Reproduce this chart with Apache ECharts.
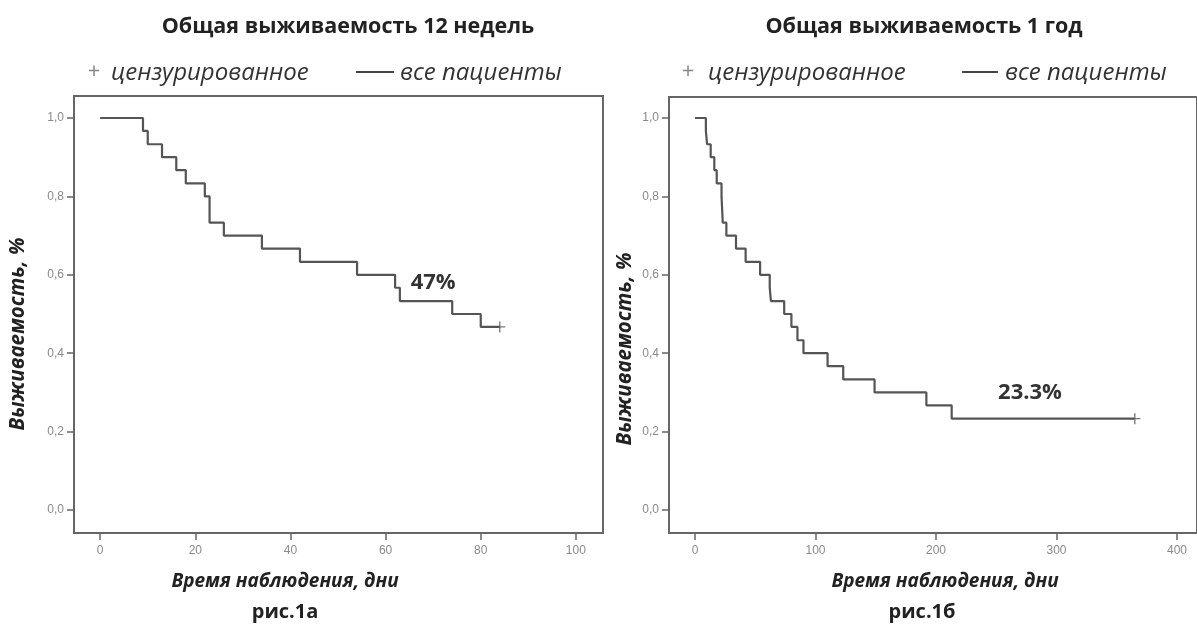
<!DOCTYPE html>
<html>
<head>
<meta charset="utf-8">
<script src="https://cdn.jsdelivr.net/npm/echarts@6/dist/echarts.min.js"></script>
<style>html,body{margin:0;padding:0;background:#fff}#c{width:1197px;height:630px}</style>
</head>
<body>
<div id="c"></div>
<script>
// ---- data (Kaplan–Meier steps) ----
const weeksDays     = [0, 9, 10, 13, 16, 18, 22, 23, 26, 34, 42, 54, 62, 63, 74, 80, 84];
const weeksSurvival = [1.0, 0.967, 0.933, 0.9, 0.867, 0.833, 0.8, 0.733, 0.7, 0.667, 0.633, 0.6, 0.567, 0.533, 0.5, 0.467, 0.467];
const weeksCensorDays = [84];
const weeksCensorSurv = [0.467];

const yearDays     = [0, 9, 10, 13, 16, 18, 22, 23, 26, 34, 42, 54, 62, 63, 74, 80, 85, 90, 110, 123, 149, 192, 213, 365];
const yearSurvival = [1.0, 0.967, 0.933, 0.9, 0.867, 0.833, 0.8, 0.733, 0.7, 0.667, 0.633, 0.6, 0.567, 0.533, 0.5, 0.467, 0.433, 0.4, 0.367, 0.333, 0.3, 0.267, 0.233, 0.233];
const yearCensorDays = [365];
const yearCensorSurv = [0.233];

const weeksXTicks = [0, 20, 40, 60, 80, 100];
const yearXTicks  = [0, 100, 200, 300, 400];
const yTicks      = [0, 0.2, 0.4, 0.6, 0.8, 1.0];

const titles      = ['Общая выживаемость 12 недель', 'Общая выживаемость 1 год'];
const legendNames = ['цензурированное', 'все пациенты'];
const yName = 'Выживаемость, %';
const xName = 'Время наблюдения, дни';
const figNames = ['рис.1а', 'рис.1б'];
const weeksNote = '47%';
const yearNote  = '23.3%';

// ---- build ----
const zip = (a, b) => a.map((v, i) => [v, b[i]]);
const LINE = '#555';
const FRAME = '#666';
const PLUS = 'path://M0,4.4H10V5.6H0Z M4.4,0H5.6V10H4.4Z';
const CAL = '"Open Sans", "Noto Sans", sans-serif';

function xAxis(grid, min, max, ticks) {
  return {
    type: 'value', gridIndex: grid, min: min, max: max, position: 'bottom',
    axisLine: { show: false, onZero: false },
    splitLine: { show: false },
    axisTick: { show: true, inside: false, length: 7, customValues: ticks, lineStyle: { color: FRAME, width: 1.5 } },
    axisLabel: { customValues: ticks, color: '#8a8a8a', fontSize: 12, margin: 12, fontFamily: 'Liberation Sans, Arial' }
  };
}
function yAxis(grid, min, max) {
  return {
    type: 'value', gridIndex: grid, min: min, max: max, position: 'left',
    axisLine: { show: false, onZero: false },
    splitLine: { show: false },
    axisTick: { show: true, inside: false, length: 7, customValues: yTicks, lineStyle: { color: FRAME, width: 1.5 } },
    axisLabel: { customValues: yTicks, color: '#8a8a8a', fontSize: 12, margin: 10, fontFamily: 'Liberation Sans, Arial',
      formatter: v => v.toFixed(1).replace('.', ',') }
  };
}
function noteMark(coord, text) {
  return {
    symbol: 'circle', symbolSize: 1, itemStyle: { color: 'rgba(0,0,0,0)' },
    label: { show: true, position: 'inside', formatter: text, color: '#333', fontSize: 22, fontWeight: 'bold', fontFamily: CAL },
    data: [{ coord: coord }]
  };
}

const txt = (x, y, text, style, extra) => Object.assign({
  type: 'text', x: x, y: y,
  style: Object.assign({ text: text, fill: '#222', textAlign: 'center', textVerticalAlign: 'middle', fontFamily: CAL }, style)
}, extra || {});

const LEG = { fontSize: 24, fontStyle: 'italic', textAlign: 'left', fill: '#333' };
const graphics = [
  txt(348, 27, titles[0], { fontSize: 21.5, fontWeight: 'bold' }),
  txt(924, 27, titles[1], { fontSize: 21.5, fontWeight: 'bold' }),
  // legends
  txt(94, 72, '+', { fontSize: 22, fill: '#888' }),
  txt(111, 73, legendNames[0], LEG),
  { type: 'line', shape: { x1: 356, y1: 72, x2: 394, y2: 72 }, style: { stroke: '#444', lineWidth: 2 } },
  txt(400, 73, legendNames[1], LEG),
  txt(688, 72, '+', { fontSize: 22, fill: '#888' }),
  txt(708, 73, legendNames[0], LEG),
  { type: 'line', shape: { x1: 962, y1: 72, x2: 998, y2: 72 }, style: { stroke: '#444', lineWidth: 2 } },
  txt(1005, 73, legendNames[1], LEG),
  // axis names
  txt(18, 334, yName, { fontSize: 20.5, fontWeight: 'bold', fontStyle: 'italic' }, { rotation: Math.PI / 2 }),
  txt(625, 349, yName, { fontSize: 20.5, fontWeight: 'bold', fontStyle: 'italic' }, { rotation: Math.PI / 2 }),
  txt(285, 582, xName, { fontSize: 19, fontWeight: 'bold', fontStyle: 'italic' }),
  txt(945, 582, xName, { fontSize: 19, fontWeight: 'bold', fontStyle: 'italic' }),
  txt(285, 612, figNames[0], { fontSize: 20, fontWeight: 'bold' }),
  txt(922, 612, figNames[1], { fontSize: 20, fontWeight: 'bold' })
];

const option = {
  backgroundColor: '#fff',
  animation: false,
  grid: [
    { left: 74, top: 96, width: 529, height: 437, show: true, borderColor: FRAME, borderWidth: 2, backgroundColor: '#fff' },
    { left: 669, top: 97, width: 528, height: 436, show: true, borderColor: FRAME, borderWidth: 2, backgroundColor: '#fff' }
  ],
  xAxis: [xAxis(0, -5.5, 105.7, weeksXTicks), xAxis(1, -21.6, 416.6, yearXTicks)],
  yAxis: [yAxis(0, -0.0587, 1.0561), yAxis(1, -0.0587, 1.0536)],
  series: [
    { name: legendNames[1], type: 'line', step: 'end', xAxisIndex: 0, yAxisIndex: 0, symbol: 'none',
      lineStyle: { color: LINE, width: 2.2 }, data: zip(weeksDays, weeksSurvival),
      markPoint: noteMark([70, 0.58], weeksNote) },
    { name: legendNames[0], type: 'scatter', xAxisIndex: 0, yAxisIndex: 0, symbol: PLUS, symbolSize: 11,
      itemStyle: { color: LINE }, data: zip(weeksCensorDays, weeksCensorSurv) },
    { name: legendNames[1], type: 'line', step: 'end', xAxisIndex: 1, yAxisIndex: 1, symbol: 'none',
      lineStyle: { color: LINE, width: 2.2 }, data: zip(yearDays, yearSurvival),
      markPoint: noteMark([278, 0.298], yearNote) },
    { name: legendNames[0], type: 'scatter', xAxisIndex: 1, yAxisIndex: 1, symbol: PLUS, symbolSize: 11,
      itemStyle: { color: LINE }, data: zip(yearCensorDays, yearCensorSurv) }
  ],
  graphic: graphics
};

const chart = echarts.init(document.getElementById('c'), null, { renderer: 'canvas' });
chart.setOption(option);
</script>
</body>
</html>
